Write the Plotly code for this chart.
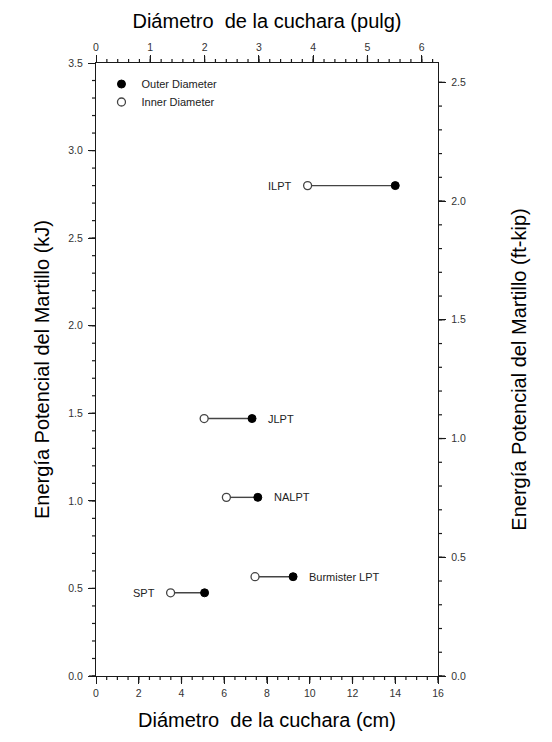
import numpy as np
import plotly.graph_objects as go

# ---- data ----
tests = ["SPT", "Burmister LPT", "NALPT", "JLPT", "ILPT"]
inner_cm = [3.49, 7.44, 6.10, 5.06, 9.90]
outer_cm = [5.08, 9.22, 7.57, 7.30, 14.00]
energy_kj = [0.475, 0.567, 1.02, 1.47, 2.80]
label_side = ["left", "right", "right", "right", "left"]

CM_PER_IN = 2.54
FTKIP_PER_KJ = 0.73756
X_MAX_CM = 16
Y_MAX_KJ = 3.5

FONT = "Liberation Sans, Arial, Helvetica, sans-serif"
TICK_COLOR = "#333333"
LINE_COLOR = "#1a1a1a"

fig = go.Figure()

seg_x, seg_y = [], []
for xi, xo, e in zip(inner_cm, outer_cm, energy_kj):
    seg_x += [xi, xo, None]
    seg_y += [e, e, None]
fig.add_trace(go.Scatter(x=seg_x, y=seg_y, mode="lines",
                         line=dict(color="#444444", width=1.4),
                         showlegend=False, hoverinfo="skip"))

fig.add_trace(go.Scatter(x=outer_cm, y=energy_kj, mode="markers",
                         name="Outer Diameter", legend="legend",
                         marker=dict(symbol="circle", size=8, color="black",
                                     line=dict(color="black", width=1))))
fig.add_trace(go.Scatter(x=inner_cm, y=energy_kj, mode="markers",
                         name="Inner Diameter", legend="legend2",
                         marker=dict(symbol="circle", size=8, color="white",
                                     line=dict(color="#444444", width=1.3))))

fig.add_trace(go.Scatter(x=[0], y=[0], xaxis="x2", yaxis="y", mode="markers",
                         marker=dict(opacity=0), showlegend=False, hoverinfo="skip"))
fig.add_trace(go.Scatter(x=[0], y=[0], xaxis="x", yaxis="y2", mode="markers",
                         marker=dict(opacity=0), showlegend=False, hoverinfo="skip"))

for name, xi, xo, e, side in zip(tests, inner_cm, outer_cm, energy_kj, label_side):
    if side == "left":
        fig.add_annotation(x=xi, y=e, text=name, showarrow=False, xanchor="right",
                           xshift=-14, font=dict(family=FONT, size=11, color="#222"))
    else:
        fig.add_annotation(x=xo, y=e, text=name, showarrow=False, xanchor="left",
                           xshift=14, font=dict(family=FONT, size=11, color="#222"))

# ---- explicit outward tick marks (major + minor) on all four sides ----
def tick_values(stop, step):
    return [round(v, 4) for v in np.arange(0, stop + 1e-9, step)]

def add_ticks(vals, length, axis_ref, side):
    for v in vals:
        if side == "bottom":
            fig.add_shape(type="line", xref=axis_ref, yref="paper", ysizemode="pixel",
                          yanchor=0, x0=v, x1=v, y0=0, y1=-length,
                          line=dict(color=LINE_COLOR, width=1.2))
        elif side == "top":
            fig.add_shape(type="line", xref=axis_ref, yref="paper", ysizemode="pixel",
                          yanchor=1, x0=v, x1=v, y0=0, y1=length,
                          line=dict(color=LINE_COLOR, width=1.2))
        elif side == "left":
            fig.add_shape(type="line", yref=axis_ref, xref="paper", xsizemode="pixel",
                          xanchor=0, y0=v, y1=v, x0=0, x1=-length,
                          line=dict(color=LINE_COLOR, width=1.2))
        else:
            fig.add_shape(type="line", yref=axis_ref, xref="paper", xsizemode="pixel",
                          xanchor=1, y0=v, y1=v, x0=0, x1=length,
                          line=dict(color=LINE_COLOR, width=1.2))

MAJOR_LEN, MINOR_LEN = 7, 4
add_ticks(tick_values(X_MAX_CM, 2), MAJOR_LEN, "x", "bottom")
add_ticks(tick_values(X_MAX_CM, 0.5), MINOR_LEN, "x", "bottom")
add_ticks(tick_values(X_MAX_CM / CM_PER_IN, 1), MAJOR_LEN, "x2", "top")
add_ticks(tick_values(X_MAX_CM / CM_PER_IN, 0.2), MINOR_LEN, "x2", "top")
add_ticks(tick_values(Y_MAX_KJ, 0.5), MAJOR_LEN, "y", "left")
add_ticks(tick_values(Y_MAX_KJ, 0.1), MINOR_LEN, "y", "left")
add_ticks(tick_values(Y_MAX_KJ * FTKIP_PER_KJ, 0.5), MAJOR_LEN, "y2", "right")
add_ticks(tick_values(Y_MAX_KJ * FTKIP_PER_KJ, 0.1), MINOR_LEN, "y2", "right")

axis_common = dict(showline=True, linecolor=LINE_COLOR, linewidth=1.3,
                   ticks="outside", ticklen=7, tickwidth=1.2, tickcolor=LINE_COLOR,
                   showgrid=False, zeroline=False,
                   tickfont=dict(family=FONT, size=10.5, color=TICK_COLOR))

legend_common = dict(xanchor="left", yanchor="middle", bgcolor="rgba(0,0,0,0)",
                     font=dict(family=FONT, size=11, color="#222"), itemclick=False)

fig.update_layout(
    width=552, height=742,
    margin=dict(l=96, r=114, t=63, b=66),
    paper_bgcolor="white", plot_bgcolor="white",
    font=dict(family=FONT),
    xaxis=dict(range=[0, X_MAX_CM], dtick=2, tickformat="d",
               title=dict(text="Diámetro  de la cuchara (cm)",
                          font=dict(family=FONT, size=20, color="black"), standoff=15),
               **axis_common),
    xaxis2=dict(range=[0, X_MAX_CM / CM_PER_IN], dtick=1, tickformat="d",
                overlaying="x", side="top",
                title=dict(text="Diámetro  de la cuchara (pulg)",
                           font=dict(family=FONT, size=20, color="black"), standoff=6),
                **axis_common),
    yaxis=dict(range=[0, Y_MAX_KJ], dtick=0.5, tickformat=".1f",
               ticklabelstandoff=3,
               title=dict(text="Energía Potencial del Martillo (kJ)",
                          font=dict(family=FONT, size=20, color="black"), standoff=13),
               **axis_common),
    yaxis2=dict(range=[0, Y_MAX_KJ * FTKIP_PER_KJ], dtick=0.5, tickformat=".1f",
                overlaying="y", side="right",
                ticklabelstandoff=3,
                title=dict(text="Energía Potencial del Martillo (ft-kip)",
                           font=dict(family=FONT, size=20, color="black"), standoff=46),
                **axis_common),
    legend=dict(x=0.016, y=0.9657, **legend_common),
    legend2=dict(x=0.016, y=0.9364, **legend_common),
    showlegend=True,
)

fig.write_html("out.html")
